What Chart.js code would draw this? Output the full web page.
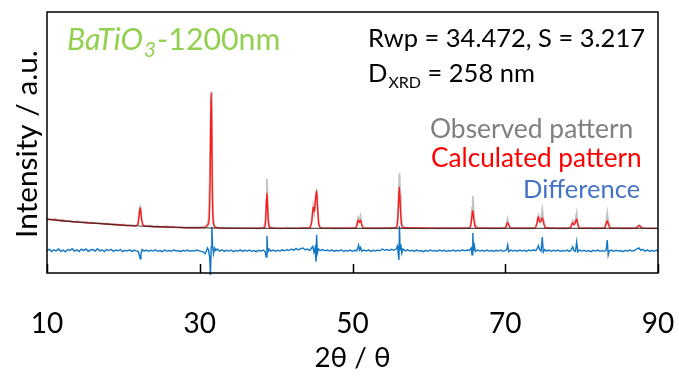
<!DOCTYPE html>
<html>
<head>
<meta charset="utf-8">
<script src="https://cdn.jsdelivr.net/npm/chart.js@4.4.1/dist/chart.umd.min.js"></script>
<style>
  html, body { margin: 0; padding: 0; background: #fff; }
</style>
</head>
<body>
<canvas id="myChart" width="679" height="376"></canvas>
<script>

// x axis (2theta, degrees)
const X_MIN = 10;
const X_MAX = 90;
const xTicks = [10, 30, 50, 70, 90];

// observed intensity [2theta, I] (a.u.)
const observed = [
  [10,20.9],[10.5,20.5],[11,20.7],[11.5,20.2],[12,20.4],[12.5,19.9],[13,20.1],[13.5,19.6],[14,19.9],[14.5,19.4],
  [15,19.7],[15.5,19.2],[16,19.4],[16.5,19.0],[17,19.2],[17.5,18.8],[18,19.0],[18.5,18.6],[19,18.8],[19.5,18.4],
  [20,18.6],[20.5,18.2],[21,18.4],[21.5,18.1],[21.8,18.4],[22.0,21.0],[22.1,24.0],[22.2,25.2],[22.3,23.6],[22.4,20.5],
  [22.6,18.4],[23,18.0],[23.5,18.2],[24,17.8],[24.5,18.0],[25,17.6],[25.5,17.9],[26,17.5],[26.5,17.8],[27,17.4],
  [27.5,17.6],[28,17.3],[28.5,17.6],[29,17.4],[29.5,17.6],[30,17.5],[30.5,17.8],[30.8,18.1],[31.0,18.8],[31.15,20.5],
  [31.3,35],[31.4,58],[31.5,69.5],[31.6,52],[31.7,28],[31.8,20],[31.95,18.0],[32.2,17.5],[32.6,17.3],[33,17.5],
  [33.5,17.2],[34,17.4],[34.5,17.1],[35,17.3],[35.5,17.1],[36,17.4],[36.5,17.1],[37,17.3],[37.5,17.0],[38,17.3],
  [38.4,17.6],[38.6,20],[38.7,28],[38.8,36],[38.9,27],[39.0,20],[39.2,17.6],[39.5,17.2],[40,17.3],[40.5,17.0],
  [41,17.2],[41.5,17.4],[42,17.1],[42.5,17.3],[43,17.0],[43.5,17.4],[44,17.2],[44.4,17.6],[44.7,20],[44.85,25.5],
  [45.0,23],[45.15,28],[45.3,32.2],[45.45,24],[45.6,18.5],[45.9,17.3],[46.5,17.1],[47,17.3],[47.5,17.0],[48,17.2],
  [48.5,17.0],[49,17.3],[49.5,17.1],[50,17.2],[50.4,17.4],[50.6,19],[50.75,21.2],[50.9,20],[51.05,21.8],[51.2,19],
  [51.4,17.4],[51.8,17.1],[52.5,17.2],[53,17.0],[53.5,17.2],[54,17.1],[54.5,17.3],[55,17.0],[55.5,17.3],[55.8,17.8],
  [55.95,22],[56.05,31],[56.15,38.3],[56.25,30],[56.35,22],[56.5,18.5],[56.8,17.4],[57.2,17.2],[58,17.0],[58.5,17.3],
  [59,17.0],[59.5,17.2],[60,17.1],[60.5,17.3],[61,17.0],[61.5,17.2],[62,17.1],[62.5,17.3],[63,17.0],[63.5,17.2],
  [64,17.1],[64.5,17.3],[65,17.2],[65.4,17.6],[65.55,20],[65.65,25],[65.75,29.5],[65.85,25],[65.95,21],[66.1,18.5],
  [66.4,17.4],[67,17.1],[67.5,17.3],[68,17.0],[68.5,17.2],[69,17.1],[69.5,17.2],[70,17.3],[70.15,18.5],[70.3,20.7],
  [70.45,18.5],[70.7,17.3],[71.2,17.1],[71.8,17.2],[72.5,17.0],[73,17.2],[73.5,17.1],[73.9,17.4],[74.15,19],[74.33,22],
  [74.5,20],[74.7,21.5],[74.85,24.4],[75.0,20.5],[75.2,17.8],[75.6,17.2],[76,17.1],[76.5,17.3],[77,17.0],[77.5,17.2],
  [78,17.1],[78.5,17.4],[78.7,18.5],[78.83,20],[79.0,19],[79.2,20.5],[79.35,23],[79.5,19],[79.7,17.4],[80.2,17.1],
  [80.8,17.3],[81.5,17.0],[82,17.2],[82.5,17.1],[83,17.5],[83.2,19.5],[83.36,23],[83.5,19.5],[83.7,17.5],[84.2,17.1],
  [84.8,17.3],[85.5,17.0],[86,17.2],[86.5,17.1],[87,17.3],[87.3,17.8],[87.5,18.4],[87.7,18.0],[88,17.3],[88.5,17.1],
  [89,17.2],[89.5,17.0],[90,17.1]
];

// calculated (Rietveld fit)
const calculated = [
  [10,20.6],[12,20.0],[14,19.5],[16,19.1],[18,18.7],[20,18.3],[21.6,18.05],[21.9,18.5],[22.05,21.5],[22.2,25.0],
  [22.35,21.3],[22.55,18.4],[23,17.9],[25,17.7],[27,17.5],[29,17.35],[30.5,17.4],[30.9,17.8],[31.1,18.6],[31.25,21],
  [31.35,34],[31.45,60],[31.5,69],[31.57,55],[31.65,30],[31.75,20],[31.9,17.9],[32.3,17.3],[35,17.1],[38.4,17.2],
  [38.6,19],[38.7,25],[38.8,30.7],[38.9,24],[39.0,19],[39.2,17.4],[40,17.1],[44.4,17.3],[44.65,19.5],[44.82,24.5],
  [44.9,25.3],[45.0,23.5],[45.15,28],[45.3,31.4],[45.43,25],[45.6,18.5],[45.9,17.2],[50.4,17.2],[50.6,18.5],[50.75,20.3],
  [50.9,19.3],[51.05,20.2],[51.2,18.5],[51.4,17.2],[55.7,17.3],[55.9,19.5],[56.02,26],[56.13,33],[56.25,26],[56.38,19.5],
  [56.6,17.4],[65.3,17.2],[65.5,18.5],[65.63,21.5],[65.74,23.9],[65.86,21],[66.0,18.3],[66.3,17.2],[70.0,17.2],[70.15,18.2],
  [70.32,19.3],[70.5,18.1],[70.7,17.2],[73.9,17.2],[74.15,19],[74.33,21.6],[74.5,19.5],[74.68,19.8],[74.85,21.2],[75.0,19.4],
  [75.25,17.3],[78.5,17.2],[78.68,18.4],[78.83,19.2],[79.0,18.4],[79.2,19.5],[79.35,20.7],[79.5,18.6],[79.7,17.2],[83.0,17.2],
  [83.2,18.6],[83.36,20.0],[83.52,18.5],[83.75,17.2],[87.2,17.2],[87.4,17.9],[87.55,18.1],[87.7,17.8],[87.9,17.1],[90,17.1]
];

// refined background
const background = [
  [10,20.6],[12,20.0],[14,19.5],[16,19.1],[18,18.7],[20,18.3],[22,18.0],[24,17.8],[26,17.6],[28,17.4],
  [30,17.3],[33,17.2],[40,17.1],[60,17.1],[90,17.1]
];

// difference (obs - calc, offset)
const difference = [
  [10,8.4],[10.3,9.1],[10.6,8.2],[10.9,8.9],[11.2,8.5],[11.5,9.2],[11.8,8.3],[12.1,8.8],[12.4,8.1],[12.7,9.0],
  [13.0,8.6],[13.3,9.3],[13.6,8.4],[13.9,8.9],[14.2,8.2],[14.5,9.1],[14.8,8.6],[15.1,9.2],[15.4,8.3],[15.7,8.8],
  [16.0,9.0],[16.3,8.4],[16.6,9.3],[16.9,8.5],[17.2,8.9],[17.5,8.2],[17.8,9.0],[18.1,8.6],[18.4,9.1],[18.7,8.3],
  [19.0,8.8],[19.3,8.5],[19.6,9.0],[19.9,8.2],[20.2,8.7],[20.5,8.4],[20.8,8.9],[21.1,8.3],[21.4,8.7],[21.7,8.5],
  [21.95,8.2],[22.1,6.8],[22.2,5.4],[22.3,7.2],[22.45,9.0],[22.7,8.4],[23.0,8.8],[23.3,8.3],[23.6,8.7],[23.9,8.4],
  [24.2,8.9],[24.5,8.3],[24.8,8.6],[25.1,8.2],[25.4,8.8],[25.7,8.4],[26.0,8.6],[26.3,8.3],[26.6,8.9],[26.9,8.4],
  [27.2,8.6],[27.5,8.2],[27.8,8.7],[28.1,8.4],[28.4,8.8],[28.7,8.3],[29.0,8.6],[29.3,8.4],[29.6,8.8],[29.9,8.5],
  [30.2,8.3],[30.5,8.0],[30.7,7.4],[30.85,8.2],[31.0,9.6],[31.15,8.8],[31.3,6.0],[31.4,-0.8],[31.5,10],[31.58,17.6],
  [31.68,10.5],[31.8,7.4],[31.95,9.6],[32.1,8.6],[32.3,9.2],[32.6,8.4],[32.9,8.9],[33.2,8.3],[33.5,8.7],[33.8,8.4],
  [34.1,8.8],[34.4,8.2],[34.7,8.6],[35.0,8.4],[35.3,8.9],[35.6,8.3],[35.9,8.7],[36.2,8.4],[36.5,8.8],[36.8,8.3],
  [37.1,8.6],[37.4,8.2],[37.7,8.7],[38.0,8.4],[38.3,8.8],[38.55,8.3],[38.7,6.1],[38.8,14.3],[38.9,8.0],[39.05,9.2],
  [39.3,8.4],[39.6,8.8],[39.9,8.3],[40.2,8.7],[40.5,8.4],[40.8,8.9],[41.1,8.5],[41.4,9.0],[41.7,8.6],[42.0,9.2],
  [42.3,8.7],[42.6,9.4],[42.9,8.8],[43.2,9.3],[43.5,9.6],[43.8,8.9],[44.1,9.2],[44.4,8.6],[44.6,9.4],[44.8,10.2],
  [44.95,8.0],[45.1,9.6],[45.22,4.3],[45.3,14.6],[45.4,7.6],[45.55,9.2],[45.8,8.6],[46.1,9.0],[46.4,8.5],[46.7,8.8],
  [47.0,8.4],[47.3,8.9],[47.6,8.3],[47.9,8.7],[48.2,8.4],[48.5,8.9],[48.8,8.3],[49.1,8.6],[49.4,8.4],[49.7,8.8],
  [50.0,8.3],[50.3,8.7],[50.55,8.5],[50.7,9.6],[50.8,10.7],[50.92,8.9],[51.05,9.8],[51.2,8.4],[51.5,8.8],[51.8,8.4],
  [52.1,8.9],[52.4,8.3],[52.7,8.7],[53.0,8.4],[53.3,8.8],[53.6,8.5],[53.9,9.2],[54.2,8.7],[54.5,9.0],[54.8,8.6],
  [55.1,9.1],[55.4,8.7],[55.7,9.2],[55.9,10.4],[56.0,7.0],[56.08,5.0],[56.15,18.0],[56.23,9.0],[56.33,11.0],[56.45,7.6],
  [56.6,9.2],[56.9,8.5],[57.2,8.9],[57.5,8.4],[57.8,8.7],[58.1,8.3],[58.4,8.8],[58.7,8.4],[59.0,8.6],[59.3,8.2],
  [59.6,8.7],[59.9,8.3],[60.2,8.8],[60.5,8.4],[60.8,8.6],[61.1,8.3],[61.4,8.8],[61.7,8.4],[62.0,8.7],[62.3,8.3],
  [62.6,8.6],[62.9,8.4],[63.2,8.8],[63.5,8.3],[63.8,8.7],[64.1,8.4],[64.4,8.9],[64.7,8.5],[65.0,8.8],[65.3,8.6],
  [65.55,9.6],[65.65,7.0],[65.75,15.3],[65.85,8.5],[65.95,10.5],[66.1,8.2],[66.4,8.8],[66.7,8.4],[67.0,8.7],[67.3,8.3],
  [67.6,8.8],[67.9,8.4],[68.2,8.6],[68.5,8.3],[68.8,8.7],[69.1,8.4],[69.4,8.8],[69.7,8.3],[70.0,8.6],[70.2,9.0],
  [70.32,10.7],[70.45,8.2],[70.7,8.8],[71.0,8.4],[71.3,8.7],[71.6,8.3],[71.9,8.8],[72.2,8.4],[72.5,8.7],[72.8,8.3],
  [73.1,8.8],[73.4,8.5],[73.7,8.9],[74.0,8.6],[74.2,9.4],[74.33,10.5],[74.5,9.0],[74.7,8.4],[74.85,13.8],[74.98,8.0],
  [75.15,9.0],[75.4,8.4],[75.7,8.8],[76.0,8.3],[76.3,8.7],[76.6,8.4],[76.9,8.8],[77.2,8.3],[77.5,8.6],[77.8,8.4],
  [78.1,8.8],[78.4,8.3],[78.65,8.9],[78.83,10.0],[79.0,8.6],[79.2,8.3],[79.35,11.9],[79.5,8.1],[79.7,8.8],[80.0,8.4],
  [80.3,8.7],[80.6,8.3],[80.9,8.6],[81.2,8.2],[81.5,8.7],[81.8,8.4],[82.1,8.8],[82.4,8.3],[82.7,8.6],[83.0,8.4],
  [83.2,8.6],[83.36,12.6],[83.48,6.9],[83.6,8.4],[83.9,8.8],[84.2,8.3],[84.5,8.7],[84.8,8.4],[85.1,8.6],[85.4,8.2],
  [85.7,8.7],[86.0,8.3],[86.3,8.8],[86.6,8.4],[86.9,8.6],[87.2,9.2],[87.5,9.6],[87.75,8.7],[88.0,9.1],[88.3,8.4],
  [88.6,8.8],[88.9,8.3],[89.2,8.6],[89.5,8.4],[89.8,8.7],[90,8.5]
];

const FONT = 'Lato';

const toXY = (arr) => arr.map(([x, y]) => ({ x, y }));

// font size so that text spans a given width
function fitFont(ctx, text, style, width) {
  ctx.font = style + ' 100px ' + FONT;
  const size = 100 * width / ctx.measureText(text).width;
  return style + ' ' + size.toFixed(1) + 'px ' + FONT;
}

const annotations = {
  id: 'annotations',
  afterDraw(chart) {
    const { ctx, chartArea: a, scales: { x } } = chart;
    ctx.save();

    // frame + inner ticks
    ctx.strokeStyle = '#000';
    ctx.lineWidth = 1.5;
    ctx.strokeRect(a.left, a.top, a.right - a.left, a.bottom - a.top);
    ctx.beginPath();
    xTicks.forEach(v => {
      const px = Math.round(x.getPixelForValue(v)) + 0.5;
      ctx.moveTo(px, a.bottom);
      ctx.lineTo(px, a.bottom - 9);
    });
    ctx.stroke();

    ctx.textBaseline = 'alphabetic';
    ctx.textAlign = 'left';

    // sample name
    ctx.fillStyle = '#92D050';
    const big = fitFont(ctx, 'BaTiO', 'italic', 76);
    ctx.font = big;
    ctx.fillText('BaTiO', 67, 50);
    let cx = 67 + ctx.measureText('BaTiO').width + 1;
    const size = parseFloat(big.split(' ')[1]);
    ctx.font = 'italic ' + (size * 0.68).toFixed(1) + 'px ' + FONT;
    ctx.fillText('3', cx, 57);
    cx += ctx.measureText('3').width + 1;
    ctx.font = size.toFixed(1) + 'px ' + FONT;
    ctx.fillText('-1200nm', cx, 50);

    // fit results
    ctx.fillStyle = '#000';
    ctx.font = fitFont(ctx, 'Rwp = 34.472, S = 3.217', 'normal', 277);
    ctx.fillText('Rwp = 34.472, S = 3.217', 368, 47);
    const rsize = ctx.font;
    ctx.fillText('D', 368, 82);
    const dw = ctx.measureText('D').width;
    ctx.font = '16px ' + FONT;
    ctx.fillText('XRD', 368 + dw + 1, 88);
    const xw = ctx.measureText('XRD').width;
    ctx.font = rsize;
    ctx.fillText(' = 258 nm', 368 + dw + 1 + xw, 82);

    // legend text
    ctx.fillStyle = '#808080';
    ctx.font = fitFont(ctx, 'Observed pattern', 'normal', 203);
    ctx.fillText('Observed pattern', 430, 138);
    ctx.fillStyle = '#FF0000';
    ctx.font = fitFont(ctx, 'Calculated pattern', 'normal', 211);
    ctx.fillText('Calculated pattern', 431, 167);
    ctx.fillStyle = '#4472C4';
    ctx.font = fitFont(ctx, 'Difference', 'normal', 117);
    ctx.fillText('Difference', 523, 198);

    // axis titles
    ctx.fillStyle = '#000';
    ctx.textAlign = 'center';
    ctx.font = fitFont(ctx, '2θ / θ', 'normal', 76);
    ctx.fillText('2θ / θ', (a.left + a.right) / 2, 367);

    ctx.translate(37, 144);
    ctx.rotate(-Math.PI / 2);
    ctx.font = fitFont(ctx, 'Intensity / a.u.', 'normal', 188);
    ctx.fillText('Intensity / a.u.', 0, 0);

    ctx.restore();
  }
};

const ctxt = document.getElementById('myChart').getContext('2d');

const myChart = new Chart(ctxt, {
  type: 'line',
  data: {
    datasets: [
      {
        label: 'Background',
        data: toXY(background),
        borderColor: 'rgba(40,40,40,0.8)',
        borderWidth: 1.2,
        cubicInterpolationMode: 'monotone',
        order: 0
      },
      {
        label: 'Calculated pattern',
        data: toXY(calculated),
        borderColor: '#FF1a1a',
        borderWidth: 1.4,
        cubicInterpolationMode: 'monotone',
        order: 1
      },
      {
        label: 'Observed pattern',
        data: toXY(observed),
        borderColor: 'rgba(185,185,185,0.85)',
        borderWidth: 1.8,
        order: 2
      },
      {
        label: 'Difference',
        data: toXY(difference),
        borderColor: '#1176C6',
        borderWidth: 1.4,
        clip: 4,
        order: 3
      }
    ]
  },
  options: {
    responsive: false,
    animation: false,
    devicePixelRatio: 1,
    layout: { padding: { top: 12, right: 21, left: 0, bottom: 0 } },
    elements: { point: { radius: 0 }, line: { tension: 0 } },
    plugins: { legend: { display: false }, tooltip: { enabled: false } },
    scales: {
      x: {
        type: 'linear',
        min: X_MIN,
        max: X_MAX,
        // tick marks are drawn inside the frame by the plugin; tickLength only pushes the labels down
        grid: { display: false, drawTicks: true, tickLength: 34 },
        border: { display: false },
        ticks: {
          stepSize: 20,
          autoSkip: false,
          maxRotation: 0,
          padding: 0,
          color: '#000',
          font: { family: FONT, size: 28 }
        },
        afterFit: (scale) => { scale.height = 103; }
      },
      y: {
        min: 0,
        max: 100,
        grid: { display: false, drawTicks: false },
        border: { display: false },
        ticks: { display: false },
        afterFit: (scale) => { scale.width = 47; }
      }
    }
  },
  plugins: [annotations]
});

</script>
</body>
</html>
